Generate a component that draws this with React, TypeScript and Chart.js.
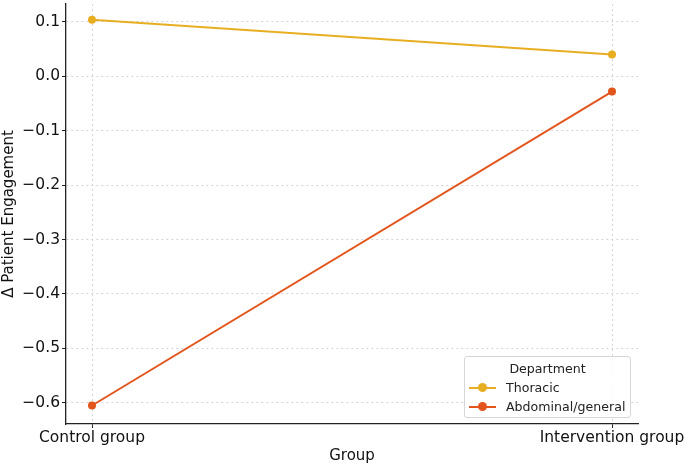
import React, { useEffect, useRef } from "react";
import { Chart, registerables } from "chart.js";

Chart.register(...registerables);

const categories = ["Control group", "Intervention group"];
const thoracic = [0.104, 0.040];
const abdominal = [-0.605, -0.028];
const yTicks = [-0.6, -0.5, -0.4, -0.3, -0.2, -0.1, 0.0, 0.1];
const seriesNames = ["Thoracic", "Abdominal/general"];
const legendTitle = "Department";

const COLORS = ["#E8AE22", "#E2561D"];
const FONT = "'DejaVu Sans', sans-serif";

export default function App() {
  const ref = useRef<HTMLCanvasElement>(null);
  useEffect(() => {
    document.body.style.margin = "0";
    const ctx = ref.current!;
    const mk = (vals: number[]) => vals.map((v, i) => ({ x: i, y: v }));
    const chart = new Chart(ctx, {
      type: "line",
      data: {
        datasets: [
          {
            label: seriesNames[0],
            data: mk(thoracic),
            borderColor: COLORS[0],
            backgroundColor: COLORS[0],
            borderWidth: 2,
            pointRadius: 4,
            pointBorderWidth: 0,
          },
          {
            label: seriesNames[1],
            data: mk(abdominal),
            borderColor: COLORS[1],
            backgroundColor: COLORS[1],
            borderWidth: 2,
            pointRadius: 4,
            pointBorderWidth: 0,
          },
        ],
      },
      options: {
        animation: false,
        responsive: false,
        layout: { padding: { top: 3, right: 47, left: 0, bottom: 0 } },
        plugins: { legend: { display: false }, tooltip: { enabled: false } },
        scales: {
          x: {
            type: "linear",
            min: -0.05,
            max: 1.05,
            afterBuildTicks: (s: any) => {
              s.ticks = categories.map((_, i) => ({ value: i }));
            },
            afterFit: (s: any) => {
              s.height = 43;
              s.paddingLeft = 0;
              s.paddingRight = 0;
            },
            ticks: {
              callback: (v: any) => categories[Math.round(Number(v))] ?? "",
              font: { family: FONT, size: 15.5 },
              color: "#111",
              padding: 1,
              maxRotation: 0,
              autoSkip: false,
            },
            grid: {
              color: "#cfd6dc",
              lineWidth: 1,
              tickColor: "#222",
              tickLength: 4,
              tickWidth: 1,
            },
            border: { display: true, color: "#222", width: 1.3, dash: [2, 3] },
            title: {
              display: true,
              text: "Group",
              font: { family: FONT, size: 15 },
              color: "#111",
              padding: { top: 0, bottom: 2 },
            },
          },
          y: {
            type: "linear",
            min: -0.639,
            max: 0.133,
            afterBuildTicks: (s: any) => {
              s.ticks = yTicks.map((v) => ({ value: v }));
            },
            afterFit: (s: any) => {
              s.width = 66;
              s.paddingTop = 0;
              s.paddingBottom = 0;
            },
            ticks: {
              callback: (v: any) => Number(v).toFixed(1).replace("-", "\u2212"),
              font: { family: FONT, size: 15.5 },
              color: "#111",
              padding: 2,
            },
            grid: {
              color: "#d4d4d4",
              lineWidth: 1,
              tickColor: "#222",
              tickLength: 4,
              tickWidth: 1,
            },
            border: { display: true, color: "#222", width: 1.3, dash: [2, 3] },
            title: {
              display: true,
              text: "\u0394 Patient Engagement",
              font: { family: FONT, size: 15 },
              color: "#111",
              padding: { top: 0, bottom: 0 },
            },
          },
        },
      },
    });
    return () => chart.destroy();
  }, []);

  const item = (i: number) => (
    <div style={{ display: "flex", alignItems: "center", height: 19 }}>
      <div style={{ position: "relative", width: 27, height: 10, marginRight: 10 }}>
        <div style={{ position: "absolute", left: 0, right: 0, top: 4, height: 2, background: COLORS[i] }} />
        <div style={{ position: "absolute", left: 9, top: 0, width: 9, height: 9, borderRadius: "50%", background: COLORS[i], marginTop: 0.5 }} />
      </div>
      <span>{seriesNames[i]}</span>
    </div>
  );

  return (
    <div style={{ position: "relative", width: 685, height: 467, background: "#fff" }}>
      <canvas ref={ref} width={685} height={467} style={{ width: 685, height: 467, display: "block" }} />
      <div
        style={{
          position: "absolute",
          left: 464,
          top: 356,
          width: 167,
          height: 62,
          boxSizing: "border-box",
          border: "1px solid #d6d6d6",
          borderRadius: 3,
          background: "rgba(255,255,255,0.85)",
          fontFamily: FONT,
          fontSize: 12.6,
          color: "#222",
          padding: "2px 4px 0 4px",
        }}
      >
        <div style={{ textAlign: "center", height: 19, lineHeight: "19px" }}>{legendTitle}</div>
        {item(0)}
        {item(1)}
      </div>
    </div>
  );
}
